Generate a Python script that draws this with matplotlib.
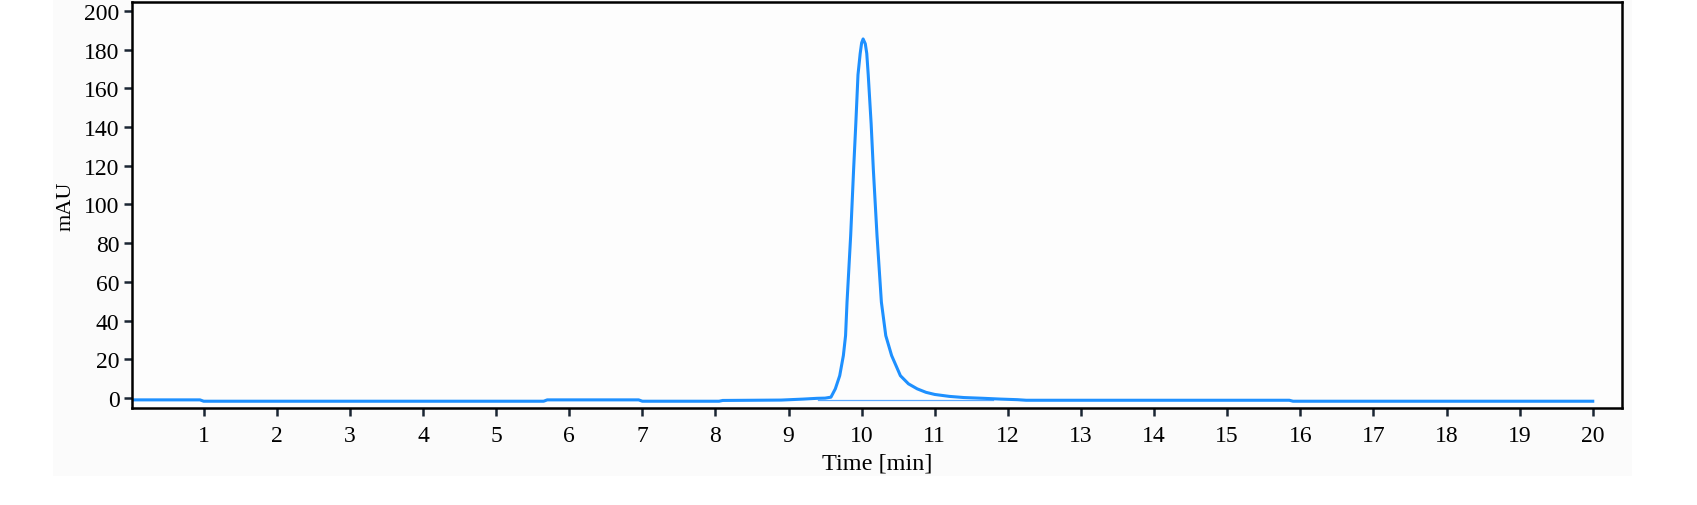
import numpy as np
import matplotlib
matplotlib.use("Agg")
import matplotlib.pyplot as plt
from matplotlib.patches import Rectangle

# chromatogram trace
time_min = [0.0, 0.95, 1.0, 5.65, 5.7, 6.95, 7.0, 8.05, 8.1, 8.9, 9.2, 9.39, 9.5, 9.58,
            9.64, 9.70, 9.75, 9.78, 9.80, 9.85, 9.89, 9.92, 9.95, 9.98, 10.0, 10.02,
            10.05, 10.07, 10.09, 10.13, 10.16, 10.21, 10.27, 10.33, 10.41, 10.53,
            10.64, 10.76, 10.88, 11.0, 11.2, 11.4, 11.67, 11.9, 12.13, 12.25,
            15.85, 15.9, 20.0]
signal_mau = [-1.0, -1.0, -1.7, -1.7, -1.0, -1.0, -1.7, -1.7, -1.3, -1.1, -0.6, -0.2, -0.1, 0.4,
              4.7, 11.5, 21.9, 32.2, 49.5, 84.0, 118.0, 141.6, 167.0, 178.0, 183.5, 185.5,
              183.0, 178.0, 167.0, 141.6, 118.0, 84.0, 49.5, 32.2, 21.9, 11.5,
              7.3, 4.7, 2.9, 1.8, 0.8, 0.2, -0.2, -0.6, -0.9, -1.2,
              -1.2, -1.7, -1.7]

# integration baseline drawn under the peak
baseline_t = [9.4, 11.8]
baseline_y = [-1.0, -1.0]

x_ticks = list(range(1, 21))
y_ticks = list(range(0, 201, 20))

plt.rcParams['font.family'] = ['Liberation Serif', 'DejaVu Serif']

fig = plt.figure(figsize=(16.97, 5.06), dpi=100)
fig.patches.append(Rectangle((53 / 1697, 1 - 477 / 506), (1632 - 53) / 1697, 477 / 506,
                             transform=fig.transFigure, facecolor='#fbfbfb',
                             edgecolor='none', zorder=-10))
ax = fig.add_axes([132 / 1697, 1 - 409 / 506, (1622 - 132) / 1697, (409 - 3) / 506])
ax.set_facecolor('#fdfdfd')

ax.plot(baseline_t, baseline_y, color='#5aa8ff', lw=0.9)
ax.plot(time_min, signal_mau, color='#1E90FF', lw=2.2, solid_joinstyle='round')

ax.set_xlim(0.02, 20.4)
ax.set_ylim(-5.2, 204.6)
ax.set_xticks(x_ticks)
ax.set_yticks(y_ticks)
ax.tick_params(direction='out', length=6, width=1.8, color='#1a2533',
               labelsize=17, pad=3)
ax.tick_params(axis='x', pad=6)
for s in ax.spines.values():
    s.set_linewidth(1.8)
    s.set_color('black')

ax.set_xlabel("Time [min]", fontsize=17.5, labelpad=5)
ax.set_ylabel("mAU", fontsize=16, labelpad=6)

fig.savefig("out.png", dpi=100)
